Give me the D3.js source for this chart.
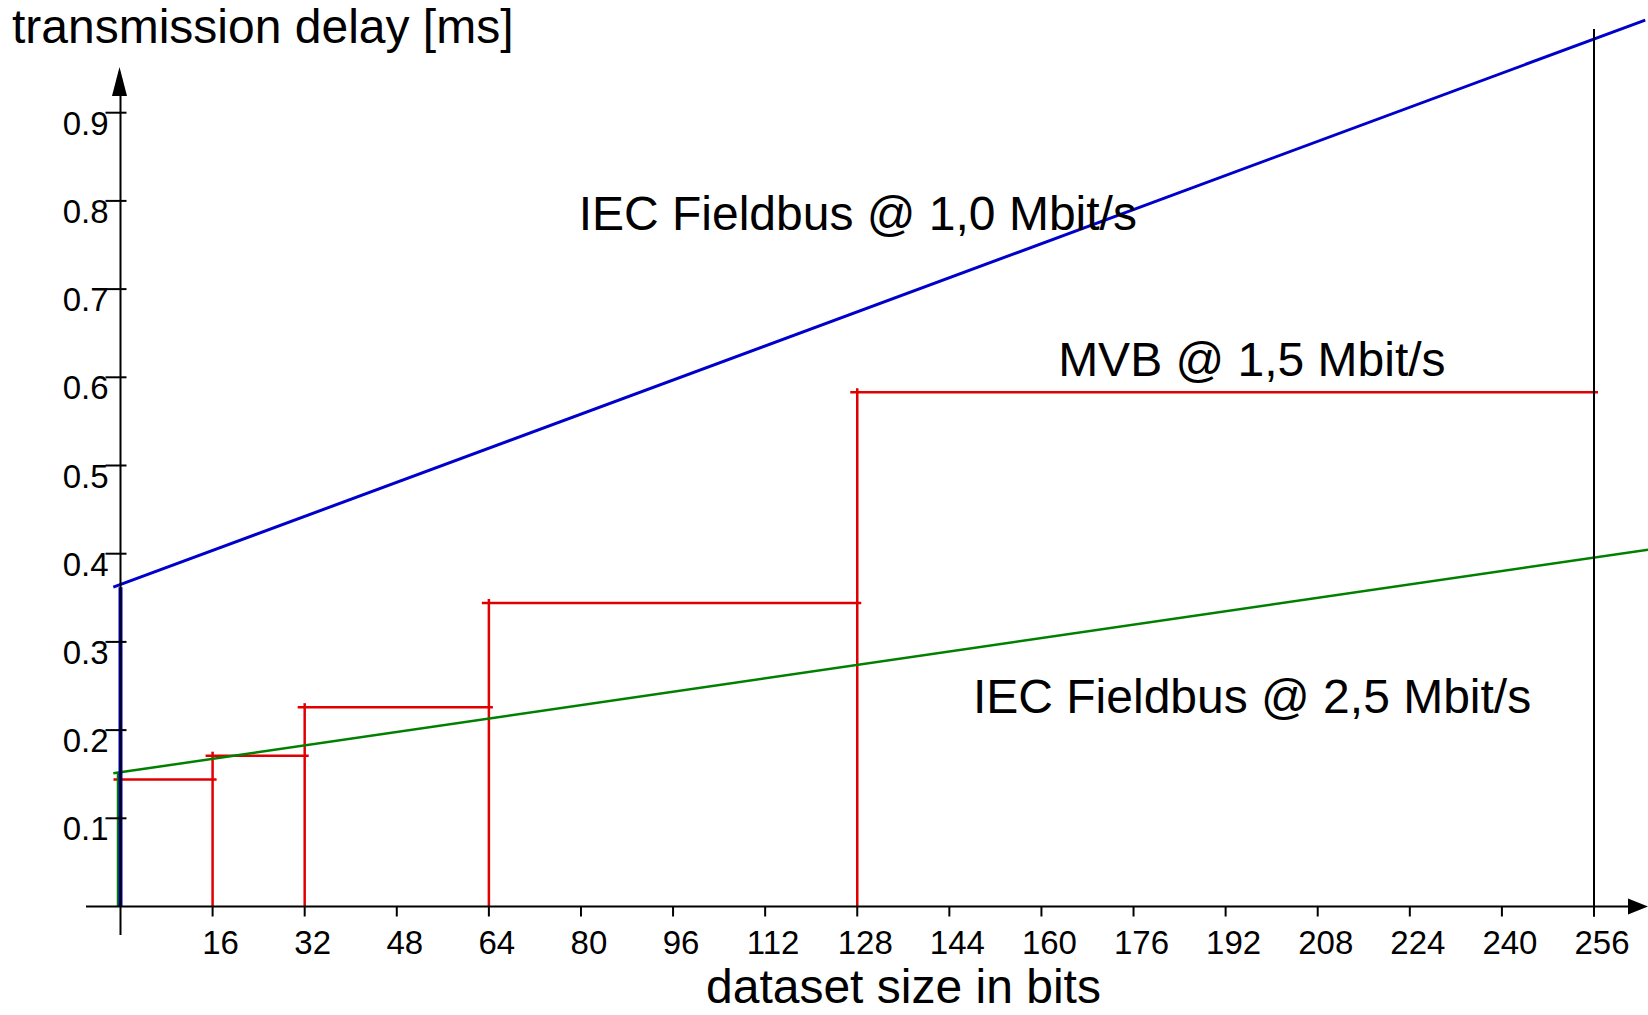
<!DOCTYPE html>
<html>
<head>
<meta charset="utf-8">
<script src="https://cdn.jsdelivr.net/npm/d3@7"></script>
<style>
  html, body { margin: 0; padding: 0; background: #fff; }
  svg { display: block; font-family: "Liberation Sans", Arial, sans-serif; }
</style>
</head>
<body>
<script>
// datos
let xTicks = [16, 32, 48, 64, 80, 96, 112, 128, 144, 160, 176, 192, 208, 224, 240, 256]
let yTicks = [0.1, 0.2, 0.3, 0.4, 0.5, 0.6, 0.7, 0.8, 0.9]

// IEC Fieldbus @ 1,0 Mbit/s (linea azul)
let iec10Bits = [-1.25, 264.9]
let iec10Delay = [0.362, 1.005]

// IEC Fieldbus @ 2,5 Mbit/s (linea verde)
let iec25Bits = [-1.25, 265.4]
let iec25Delay = [0.151, 0.4045]

// MVB @ 1,5 Mbit/s (escalones rojos)
let mvbStart = [0, 16, 32, 64, 128]
let mvbEnd = [16, 32, 64, 128, 256]
let mvbDelay = [0.144, 0.171, 0.226, 0.344, 0.583]

let labels = [
    { text: "IEC Fieldbus @ 1,0 Mbit/s", bits: 79.6, delay: 0.767 },
    { text: "MVB @ 1,5 Mbit/s", bits: 162.9, delay: 0.601 },
    { text: "IEC Fieldbus @ 2,5 Mbit/s", bits: 148.1, delay: 0.219 }
]
let markerBits = 256
let markerTop = 0.995

let width = 1648
let height = 1015

// escalas
let x = d3.scaleLinear()
    .domain([0, 256])
    .range([120.5, 1594])

let y = d3.scaleLinear()
    .domain([0, 0.9])
    .range([906.5, 112.7])

const svg = d3.select("body").append("svg")
    .attr("width", width)
    .attr("height", height)
    .attr("viewBox", [0, 0, width, height])

const line = d3.line()
    .x(d => x(d[0]))
    .y(d => y(d[1]))

// escalones MVB
const mvb = svg.append("g")
    .attr("stroke", "#e00000")
    .attr("stroke-width", 2.5)
    .attr("fill", "none")

mvbStart.forEach((s, i) => {
    mvb.append("line")
        .attr("x1", x(s) - 7)
        .attr("x2", x(mvbEnd[i]) + 4)
        .attr("y1", y(mvbDelay[i]))
        .attr("y2", y(mvbDelay[i]))
    mvb.append("line")
        .attr("x1", x(s))
        .attr("x2", x(s))
        .attr("y1", y(0))
        .attr("y2", y(mvbDelay[i]) - 4)
})

// linea verde
svg.append("path")
    .datum([[0, 0], [0, iec25Delay[0]]])
    .attr("fill", "none")
    .attr("stroke", "#008000")
    .attr("stroke-width", 2.5)
    .attr("transform", "translate(-2.5,0)")
    .attr("d", line)

svg.append("path")
    .datum(iec25Bits.map((b, i) => [b, iec25Delay[i]]))
    .attr("fill", "none")
    .attr("stroke", "#008000")
    .attr("stroke-width", 2.5)
    .attr("d", line)

// linea azul
svg.append("path")
    .datum([[0, 0], [0, iec10Delay[0]]])
    .attr("fill", "none")
    .attr("stroke", "#0000cc")
    .attr("stroke-width", 4)
    .attr("d", line)

svg.append("path")
    .datum(iec10Bits.map((b, i) => [b, iec10Delay[i]]))
    .attr("fill", "none")
    .attr("stroke", "#0000cc")
    .attr("stroke-width", 3)
    .attr("d", line)

// ejes
const axes = svg.append("g")
    .attr("stroke", "#000")
    .attr("stroke-width", 2)

// eje x
axes.append("line")
    .attr("x1", 86)
    .attr("x2", 1630)
    .attr("y1", y(0))
    .attr("y2", y(0))
axes.append("path")
    .attr("stroke", "none")
    .attr("fill", "#000")
    .attr("d", `M1648,${y(0)} L1628,${y(0) - 8} L1628,${y(0) + 8} Z`)

axes.selectAll(".xtick")
    .data(xTicks)
    .join("line")
    .attr("x1", d => x(d))
    .attr("x2", d => x(d))
    .attr("y1", y(0))
    .attr("y2", y(0) + 10)

// eje y
axes.append("line")
    .attr("x1", x(0))
    .attr("x2", x(0))
    .attr("y1", 94)
    .attr("y2", 935)
axes.append("path")
    .attr("stroke", "none")
    .attr("fill", "#000")
    .attr("d", `M${x(0) - 1},67 L${x(0) - 8.5},96 L${x(0) + 6.5},96 Z`)

axes.selectAll(".ytick")
    .data(yTicks)
    .join("line")
    .attr("x1", x(0) - 15)
    .attr("x2", x(0) + 6)
    .attr("y1", d => y(d))
    .attr("y2", d => y(d))

// linea vertical en 256
axes.append("line")
    .attr("x1", x(markerBits))
    .attr("x2", x(markerBits))
    .attr("y1", y(0) + 10)
    .attr("y2", y(markerTop))

// textos de ticks
svg.append("g")
    .attr("font-size", 33)
    .attr("text-anchor", "middle")
    .selectAll("text")
    .data(xTicks)
    .join("text")
    .attr("x", d => x(d) + 8)
    .attr("y", 953.5)
    .text(d => d)

svg.append("g")
    .attr("font-size", 33)
    .attr("text-anchor", "end")
    .selectAll("text")
    .data(yTicks)
    .join("text")
    .attr("x", 108.5)
    .attr("y", d => y(d) + 22)
    .text(d => d)

// titulos
svg.append("text")
    .attr("x", 12)
    .attr("y", 43)
    .attr("font-size", 48)
    .text("transmission delay [ms]")

svg.append("text")
    .attr("x", 706)
    .attr("y", 1003)
    .attr("font-size", 48)
    .text("dataset size in bits")

svg.append("g")
    .attr("font-size", 48)
    .selectAll("text")
    .data(labels)
    .join("text")
    .attr("x", d => x(d.bits))
    .attr("y", d => y(d.delay))
    .text(d => d.text)
</script>
</body>
</html>
